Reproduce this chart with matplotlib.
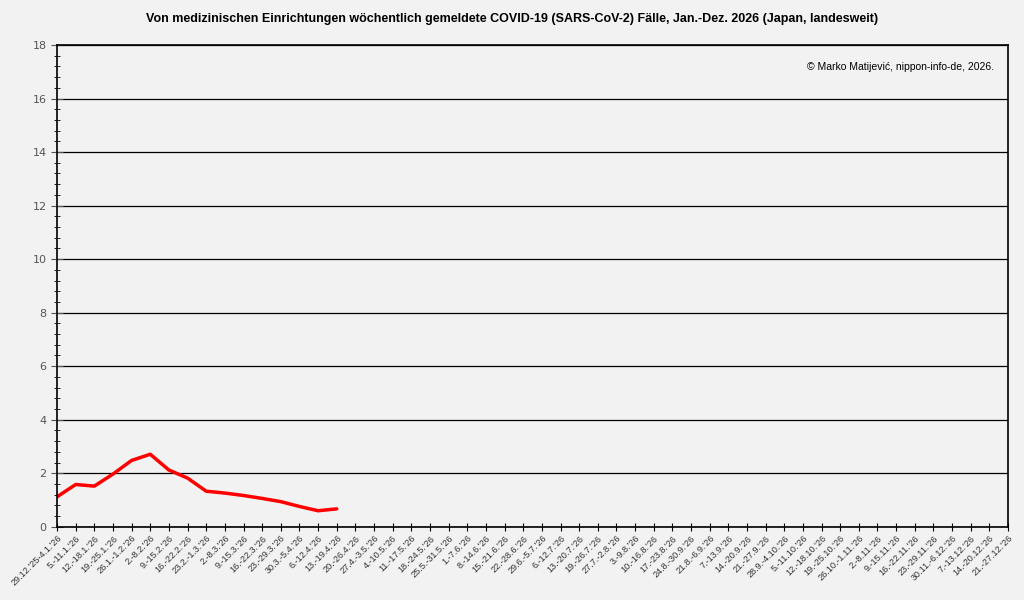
import matplotlib
matplotlib.use("Agg")
import matplotlib.pyplot as plt
from matplotlib.ticker import MultipleLocator

weeks = ["29.12.'25-4.1.'26", "5.-11.1.'26", "12.-18.1.'26", "19.-25.1.'26", "26.1.-1.2.'26",
         "2.-8.2.'26", "9.-15.2.'26", "16.-22.2.'26", "23.2.-1.3.'26", "2.-8.3.'26", "9.-15.3.'26",
         "16.-22.3.'26", "23.-29.3.'26", "30.3.-5.4.'26", "6.-12.4.'26", "13.-19.4.'26",
         "20.-26.4.'26", "27.4.-3.5.'26", "4.-10.5.'26", "11.-17.5.'26", "18.-24.5.'26",
         "25.5.-31.5.'26", "1.-7.6.'26", "8.-14.6.'26", "15.-21.6.'26", "22.-28.6.'26",
         "29.6.-5.7.'26", "6.-12.7.'26", "13.-20.7.'26", "19.-26.7.'26", "27.7.-2.8.'26",
         "3.-9.8.'26", "10.-16.8.'26", "17.-23.8.'26", "24.8.-30.9.'26", "21.8.-6.9.'26",
         "7.-13.9.'26", "14.-20.9.'26", "21.-27.9.'26", "28.9.-4.10.'26", "5.-11.10.'26",
         "12.-18.10.'26", "19.-25.10.'26", "26.10.-1.11.'26", "2.-8.11.'26", "9.-15.11.'26",
         "16.-22.11.'26", "23.-29.11.'26", "30.11.-6.12.'26", "7.-13.12.'26", "14.-20.12.'26",
         "21.-27.12.'26"]
cases = [1.12, 1.58, 1.52, 1.97, 2.48, 2.71, 2.12, 1.82, 1.33, 1.26, 1.17, 1.06, 0.94, 0.76, 0.60, 0.67]

bg = "#f2f2f2"
fig = plt.figure(figsize=(10.24, 6.0), dpi=100, facecolor=bg)
ax = fig.add_axes([0.0557, 0.122, 0.9287, 0.803])
ax.set_facecolor(bg)
ax.plot(range(len(cases)), cases, color="#ff0000", lw=2.5, solid_capstyle="round")
ax.set_xlim(0, len(weeks) - 1)
ax.set_ylim(0, 18)
ax.set_xticks(range(len(weeks)))
ax.set_xticklabels(weeks, rotation=45, ha="right", rotation_mode="anchor", fontsize=6.6,
                   color="#333333", family="Liberation Sans")
ax.yaxis.set_major_locator(MultipleLocator(2))
ax.yaxis.set_minor_locator(MultipleLocator(0.4))
ax.tick_params(axis="y", which="major", direction="inout", length=8, labelsize=8, colors="#555555")
ax.tick_params(axis="y", which="minor", direction="inout", length=5, color="black")
ax.tick_params(axis="x", direction="inout", length=6, color="black", pad=2)
ax.grid(axis="y", which="major", color="black", lw=0.9)
for s in ax.spines.values():
    s.set_color("black")
    s.set_linewidth(1.2)
ax.set_axisbelow(True)
fig.suptitle("Von medizinischen Einrichtungen wöchentlich gemeldete COVID-19 (SARS-CoV-2) Fälle, Jan.-Dez. 2026 (Japan, landesweit)",
             y=0.978, fontsize=9, fontweight="bold", family="Liberation Sans")
ax.text(0.985, 0.965, "© Marko Matijević, nippon-info-de, 2026.", transform=ax.transAxes,
        ha="right", va="top", fontsize=7.5, family="Liberation Sans")
fig.savefig("out.png", dpi=100, facecolor=bg)
